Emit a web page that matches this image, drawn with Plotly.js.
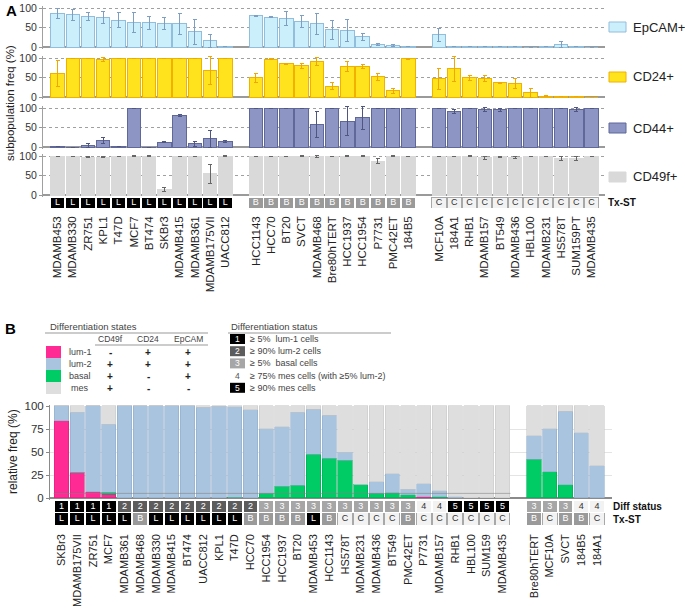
<!DOCTYPE html>
<html>
<head>
<meta charset="utf-8">
<script src="https://cdn.plot.ly/plotly-3.0.1.min.js"></script>
<style>
  html, body { margin: 0; padding: 0; background: #fff; }
  #chart { width: 685px; height: 610px; }
</style>
</head>
<body>
<div id="chart"></div>
<script>
// ==================== PANEL A DATA ====================
// three groups of cell lines: luminal (L), basal (B), claudin-low (C)
const linesL = ["MDAMB453", "MDAMB330", "ZR751", "KPL1", "T47D", "MCF7", "BT474", "SKBr3",
                "MDAMB415", "MDAMB361", "MDAMB175VII", "UACC812"];
const linesB = ["HCC1143", "HCC70", "BT20", "SVCT", "MDAMB468", "Bre80hTERT", "HCC1937",
                "HCC1954", "P7731", "PMC42ET", "184B5"];
const linesC = ["MCF10A", "184A1", "RHB1", "MDAMB157", "BT549", "MDAMB436", "HBL100",
                "MDAMB231", "HS578T", "SUM159PT", "MDAMB435"];

const epcam    = [86, 83, 79, 76, 69, 63, 62, 61, 59, 39, 16, 1,
                  80, 76, 73, 65, 59, 44, 43, 26, 7, 4, 1,
                  31, 1, 0.5, 1, 0.5, 1, 0, 1, 7, 0.5, 0];
const epcamErr = [12, 14, 10, 16, 20, 25, 16, 15, 28, 32, 16, 0,
                  1.5, 1.5, 18, 15, 27, 24, 28, 9, 2, 1.5, 0,
                  17, 0, 0, 0, 0, 0, 0, 0, 7, 0, 0];

const cd24     = [60, 100, 100, 96, 100, 100, 100, 100, 100, 100, 69, 100,
                  49, 97, 85, 80, 91, 28, 78, 78, 52, 16, 98,
                  47, 72, 49, 47, 36, 34, 11, 2, 1, 0.5, 0];
const cd24Err  = [33, 0, 0, 6, 0, 0, 0, 0, 0, 0, 36, 0,
                  11, 1, 2, 7, 11, 8, 12, 5, 9, 7, 1,
                  27, 32, 6, 7, 1.5, 13, 11, 1, 0, 0, 0];

const cd44     = [1, 0, 4, 17, 1, 100, 0, 12, 81, 8, 21, 14,
                  100, 100, 100, 100, 58, 100, 66, 75, 100, 100, 100,
                  100, 91, 100, 96, 95, 100, 100, 100, 100, 96, 100];
const cd44Err  = [0.5, 0, 4, 7, 0, 0, 0, 1.5, 1.5, 6, 21, 2,
                  0, 0, 0, 0, 33, 0, 37, 30, 0, 0, 0,
                  0, 5, 0, 5, 5, 0, 0, 0, 0, 5, 0];

const cd49f    = [100, 100, 97, 97, 100, 100, 100, 14, 100, 100, 54, 100,
                  100, 100, 100, 100, 98, 100, 100, 100, 87, 100, 100,
                  100, 100, 100, 95, 98, 97, 100, 100, 94, 94, 100];
const cd49fErr = [0, 0, 1, 2, 0, 0.5, 0.5, 4, 0, 0, 25, 0.5,
                  0, 0, 0, 0.5, 3, 0, 0.5, 0.5, 7, 0.5, 0,
                  0, 0, 0.5, 4, 1, 3, 0, 0, 5, 5, 0];

const markedA = ["SVCT", "Bre80hTERT", "P7731", "PMC42ET", "184B5", "RHB1"];

// ==================== PANEL B DATA ====================
const mainB  = ["SKBr3", "MDAMB175VII", "ZR751", "MCF7", "MDAMB361", "MDAMB468", "MDAMB330",
                "MDAMB415", "BT474", "UACC812", "KPL1", "T47D", "HCC70", "HCC1954", "HCC1937",
                "BT20", "MDAMB453", "HCC1143", "HS578T", "MDAMB231", "MDAMB436", "BT549",
                "PMC42ET", "P7731", "MDAMB157", "RHB1", "HBL100", "SUM159", "MDAMB435"];
const extraB = ["Bre80hTERT", "MCF10A", "SVCT", "184B5", "184A1"];

const lum1  = [84, 28, 7, 4, 0, 0, 0, 0, 0, 0, 0, 0, 0, 0, 0, 0, 0, 0, 0, 0, 0, 0, 0, 1.5,
               0, 0, 0, 0, 0,   0, 0, 0, 0, 0];
const basal = [0, 0, 0, 2.5, 0, 0, 0, 0, 0, 0, 0, 1, 0.5, 5, 12.5, 14, 47.5, 43, 41, 15, 5,
               5.5, 3.5, 0, 1.5, 0, 0, 0, 0,   42, 28.5, 14.5, 0, 0];
const lum2  = [16, 65, 93, 73.5, 100, 100, 100, 100, 100, 98.5, 99.5, 98, 95.5, 70, 65, 79,
               49, 47, 8.5, 0, 12.5, 21, 6, 14, 6.5, 1.5, 0, 0, 0,   25.5, 47, 80, 71, 35];
const mes   = [0, 7, 0, 20, 0, 0, 0, 0, 0, 1.5, 0.5, 1, 4, 25, 22.5, 7, 3.5, 10, 50.5, 85,
               82.5, 73.5, 90.5, 84.5, 92, 98.5, 100, 100, 100,   32.5, 24.5, 5.5, 29, 65];

const diffB = [1, 1, 1, 1, 2, 2, 2, 2, 2, 2, 2, 2, 2, 3, 3, 3, 3, 3, 3, 3, 3, 3, 3, 4, 4,
               5, 5, 5, 5,   3, 3, 3, 4, 4];
const txB   = ["L", "L", "L", "L", "L", "B", "L", "L", "L", "L", "L", "L", "B", "B", "B", "B",
               "L", "B", "C", "C", "C", "C", "B", "C", "C", "C", "C", "C", "C",
               "B", "C", "B", "B", "C"];
const markedB = ["PMC42ET", "P7731", "RHB1", "Bre80hTERT", "SVCT", "184B5"];

// legend tables of panel B
const stateNames  = ["lum-1", "lum-2", "basal", "mes"];
const stateMarks  = ["CD49f", "CD24", "EpCAM"];
const stateSigns  = [["-", "+", "+"], ["+", "+", "+"], ["+", "-", "+"], ["+", "-", "-"]];
const statusCodes = [1, 2, 3, 4, 5];
const statusText  = ["≥ 5%\u00a0\u00a0lum-1 cells", "≥ 90% lum-2 cells", "≥ 5%\u00a0\u00a0basal cells",
                     "≥ 75% mes cells (with ≥5% lum-2)", "≥ 90% mes cells"];

// ==================== HELPERS ====================
const W = 685, H = 610;
const FONT = "Liberation Sans, Arial, sans-serif";
const px = v => v / W;
const py = v => 1 - v / H;

const cellsA = linesL.concat(linesB, linesC);
const txA = linesL.map(() => "L").concat(linesB.map(() => "B"), linesC.map(() => "C"));
// one empty slot between groups
const xA = cellsA.map((_, i) => i + (i >= linesL.length ? 1 : 0) + (i >= linesL.length + linesB.length ? 1 : 0));

const cellsB = mainB.concat(extraB);
const xB = cellsB.map((_, i) => i + (i >= mainB.length ? 1 : 0));

const txFill = { L: "#000000", B: "#9a9a9a", C: "#f2f2f2" };
const txText = { L: "#ffffff", B: "#ffffff", C: "#333333" };
const txLine = { L: "#ffffff", B: "#ffffff", C: "#a8a8a8" };
const diffFill = { 1: "#000000", 2: "#5c5c5c", 3: "#a6a6a6", 4: "#f2f2f2", 5: "#000000" };
const diffText = { 1: "#ffffff", 2: "#ffffff", 3: "#ffffff", 4: "#333333", 5: "#ffffff" };

// panel A: pixel rows of the four sub-plots (zero line), 0.39 px per %
const kA = 0.39;
const domA = zero => [py(zero + 4 * kA), py(zero - 105 * kA)];
const zerosA = [47, 97, 147, 195];

const seriesA = [
  { name: "EpCAM+", y: epcam, err: epcamErr, fill: "#ccf0fb", line: "#93bddc", errc: "#7f9fc2" },
  { name: "CD24+",  y: cd24,  err: cd24Err,  fill: "#ffe31c", line: "#f2b000", errc: "#f2a600" },
  { name: "CD44+",  y: cd44,  err: cd44Err,  fill: "#8c95c4", line: "#5f6899", errc: "#4f5780" },
  { name: "CD49f+", y: cd49f, err: cd49fErr, fill: "#d9d9d9", line: "#d9d9d9", errc: "#666666" }
];

const traces = [];
seriesA.forEach((s, i) => {
  traces.push({
    type: "bar", x: xA, y: s.y, xaxis: "x", yaxis: i === 0 ? "y" : "y" + (i + 1),
    width: 0.88,
    marker: { color: s.fill, line: { color: s.line, width: 1 } },
    error_y: { type: "data", array: s.err, color: s.errc, thickness: 1, width: 2 },
    hoverinfo: "x+y"
  });
});

// letter boxes: bar for the cell, text trace for the letter (keeps a fixed font size)
function boxRow(xs, letters, fills, lines, colors, xa, ya, base) {
  traces.push({
    type: "bar", x: xs, y: xs.map(() => 1), xaxis: xa, yaxis: ya, width: 0.94,
    marker: { color: fills, line: { color: lines, width: 1 } }, hoverinfo: "skip"
  });
  traces.push({
    type: "scatter", mode: "text", x: xs, y: xs.map(() => base + 0.5), xaxis: xa, yaxis: ya,
    text: letters, textposition: "middle center", cliponaxis: false,
    textfont: { size: 9, color: colors, family: FONT }, hoverinfo: "skip"
  });
}

// Tx-ST row of panel A
boxRow(xA, txA, txA.map(t => txFill[t]), txA.map(t => txLine[t]), txA.map(t => txText[t]), "x", "y5", 0);
traces.push({
  type: "scatter", mode: "markers", xaxis: "x", yaxis: "y5", cliponaxis: false,
  x: xA.filter((_, i) => markedA.includes(cellsA[i])),
  y: xA.filter((_, i) => markedA.includes(cellsA[i])).map(() => -0.42),
  marker: { symbol: "triangle-up", size: 6, color: "#000" }, hoverinfo: "skip"
});

// panel B stacked bars
const statesB = [
  { y: lum1,  fill: "#ff2a93", line: "#e0207f" },
  { y: basal, fill: "#00cc66", line: "#00a955" },
  { y: lum2,  fill: "#a9c4de", line: "#93aecb" },
  { y: mes,   fill: "#dedede", line: "#c9c9c9" }
];
statesB.forEach(s => {
  traces.push({
    type: "bar", x: xB, y: s.y, xaxis: "x2", yaxis: "y6", width: 0.9,
    marker: { color: s.fill, line: { color: s.line, width: 0.6 } }, hoverinfo: "x+y"
  });
});

// Tx-ST (bottom) and Diff status (top) rows of panel B
boxRow(xB, txB, txB.map(t => txFill[t]), txB.map(t => txLine[t]), txB.map(t => txText[t]), "x2", "y7", 0);
boxRow(xB, diffB.map(String), diffB.map(d => diffFill[d]), cellsB.map(() => "#ffffff"),
       diffB.map(d => diffText[d]), "x2", "y7", 1);
traces.push({
  type: "scatter", mode: "markers", xaxis: "x2", yaxis: "y7", cliponaxis: false,
  x: xB.filter((_, i) => markedB.includes(cellsB[i])),
  y: xB.filter((_, i) => markedB.includes(cellsB[i])).map(() => -0.5),
  marker: { symbol: "triangle-up", size: 6, color: "#000" }, hoverinfo: "skip"
});

// ==================== AXES ====================
const yA = (i) => ({
  domain: domA(zerosA[i]), range: [-4, 105], anchor: "x",
  tickvals: [0, 50, 100], ticks: "outside", ticklen: 3, tickcolor: "#999",
  tickfont: { size: 10.5, color: "#333" },
  showgrid: true, gridcolor: "#a0a0a0", griddash: "dot", gridwidth: 1,
  zeroline: true, zerolinecolor: "#9a9a9a", zerolinewidth: 1.5,
  showline: true, linecolor: "#a0a0a0", linewidth: 1, fixedrange: true
});

const layout = {
  width: W, height: H, margin: { l: 0, r: 0, t: 0, b: 0 },
  paper_bgcolor: "#fff", plot_bgcolor: "#fff", showlegend: false,
  barmode: "stack", font: { family: FONT, color: "#222" },
  xaxis: {
    domain: [px(43), px(605)], range: [-0.95, 35.88], anchor: "y5",
    tickvals: xA, ticktext: cellsA, tickangle: -90, tickfont: { size: 11.5, color: "#222" },
    ticks: "", showgrid: false, zeroline: false, showline: false, ticklabelstandoff: 5
  },
  yaxis: yA(0), yaxis2: yA(1), yaxis3: yA(2), yaxis4: yA(3),
  yaxis5: { domain: [py(208), py(197)], range: [0, 1], anchor: "x", visible: false },
  xaxis2: {
    domain: [px(50), px(612)], range: [-0.73, 34.95], anchor: "y7",
    tickvals: xB, ticktext: cellsB, tickangle: -90, tickfont: { size: 11, color: "#222" },
    ticks: "", showgrid: false, zeroline: false, showline: false, ticklabelstandoff: 6
  },
  yaxis6: {
    domain: [py(498 + 2 * 0.92), py(406 - 0.92)], range: [-2, 101], anchor: "x2",
    tickvals: [0, 25, 50, 75, 100], ticks: "outside", ticklen: 3, tickcolor: "#888",
    tickfont: { size: 11.5, color: "#333" },
    showgrid: true, gridcolor: "#e4e4e4", gridwidth: 1,
    zeroline: true, zerolinecolor: "#8a8a8a", zerolinewidth: 1.5,
    showline: true, linecolor: "#8a8a8a", linewidth: 1
  },
  yaxis7: { domain: [py(525), py(500)], range: [0, 2], anchor: "x2", visible: false },
  shapes: [],
  annotations: []
};

const ann = (text, x, y, opts) => Object.assign({
  text: text, xref: "paper", yref: "paper", x: px(x), y: py(y),
  xanchor: "left", yanchor: "middle", showarrow: false,
  font: { size: 9, color: "#333", family: FONT }
}, opts || {});
const rect = (x0, y0, x1, y1, fill, line) => ({
  type: "rect", xref: "paper", yref: "paper", x0: px(x0), x1: px(x1), y0: py(y1), y1: py(y0),
  fillcolor: fill, line: { color: line || fill, width: line ? 1 : 0 }, layer: "above"
});
const hline = (x0, x1, y, color) => ({
  type: "line", xref: "paper", yref: "paper", x0: px(x0), x1: px(x1), y0: py(y), y1: py(y),
  line: { color: color || "#999", width: 1 }
});

// panel letters and axis titles
layout.annotations.push(ann("<b>A</b>", 4, 11, { font: { size: 15, color: "#000", family: FONT } }));
layout.annotations.push(ann("<b>B</b>", 3, 328, { font: { size: 15, color: "#000", family: FONT } }));
layout.annotations.push(ann("subpopulation freq (%)", 10, 103,
  { xanchor: "center", textangle: -90, font: { size: 11.5, color: "#222", family: FONT } }));
layout.annotations.push(ann("relative freq (%)", 13, 452,
  { xanchor: "center", textangle: -90, font: { size: 12, color: "#222", family: FONT } }));

// panel A legend at the right of each row
const legendRows = [27, 77, 128, 177];
seriesA.forEach((s, i) => {
  layout.shapes.push(rect(609, legendRows[i] - 5, 626, legendRows[i] + 5, s.fill, s.line));
  layout.annotations.push(ann(s.name, 631, legendRows[i], { font: { size: 13, color: "#222", family: FONT } }));
});
layout.annotations.push(ann("<b>Tx-ST</b>", 606, 202, { font: { size: 10, color: "#111", family: FONT } }));
layout.annotations.push(ann("<b>Diff status</b>", 611, 506, { font: { size: 10, color: "#111", family: FONT } }));
layout.annotations.push(ann("<b>Tx-ST</b>", 611, 519, { font: { size: 10, color: "#111", family: FONT } }));

// panel B: differentiation states table
layout.annotations.push(ann("Differentiation states", 48, 326, { font: { size: 9.5, color: "#444", family: FONT } }));
layout.shapes.push(hline(45, 208, 333));
layout.shapes.push(hline(95, 208, 345));
const colX = [110, 148, 188];
stateMarks.forEach((m, j) => layout.annotations.push(ann(m, colX[j], 339, { xanchor: "center", font: { size: 8.5, color: "#444", family: FONT } })));
stateNames.forEach((n, i) => {
  const yc = 352 + i * 12;
  layout.shapes.push(rect(46, yc - 6, 61, yc + 6, statesB[[0, 2, 1, 3][i]].fill));
  layout.annotations.push(ann(n, i === 3 ? 69 : 67, yc, { font: { size: 9, color: "#444", family: FONT } }));
  stateSigns[i].forEach((sg, j) => layout.annotations.push(ann("<b>" + sg + "</b>", colX[j], yc,
    { xanchor: "center", font: { size: 10, color: "#222", family: FONT } })));
});

// panel B: differentiation status key
layout.annotations.push(ann("Differentiation status", 229, 326, { font: { size: 9.5, color: "#444", family: FONT } }));
layout.shapes.push(hline(228, 391, 333));
statusCodes.forEach((c, i) => {
  const yc = 339 + i * 12.2;
  if (c !== 4) layout.shapes.push(rect(230, yc - 5, 245, yc + 5, diffFill[c]));
  layout.annotations.push(ann(String(c), 237.5, yc,
    { xanchor: "center", font: { size: 8.5, color: c === 4 ? "#555" : "#fff", family: FONT } }));
  layout.annotations.push(ann(statusText[i], 248, yc, { font: { size: 9, color: "#444", family: FONT } }));
});

// faint 5 % reference line across the main panel B group
layout.shapes.push({
  type: "line", xref: "x2", yref: "y6", x0: -0.5, x1: mainB.length - 0.5, y0: 5, y1: 5,
  line: { color: "rgba(130,130,130,0.55)", width: 1 }, layer: "above"
});

Plotly.newPlot("chart", traces, layout, { staticPlot: true, displayModeBar: false });
</script>
</body>
</html>
